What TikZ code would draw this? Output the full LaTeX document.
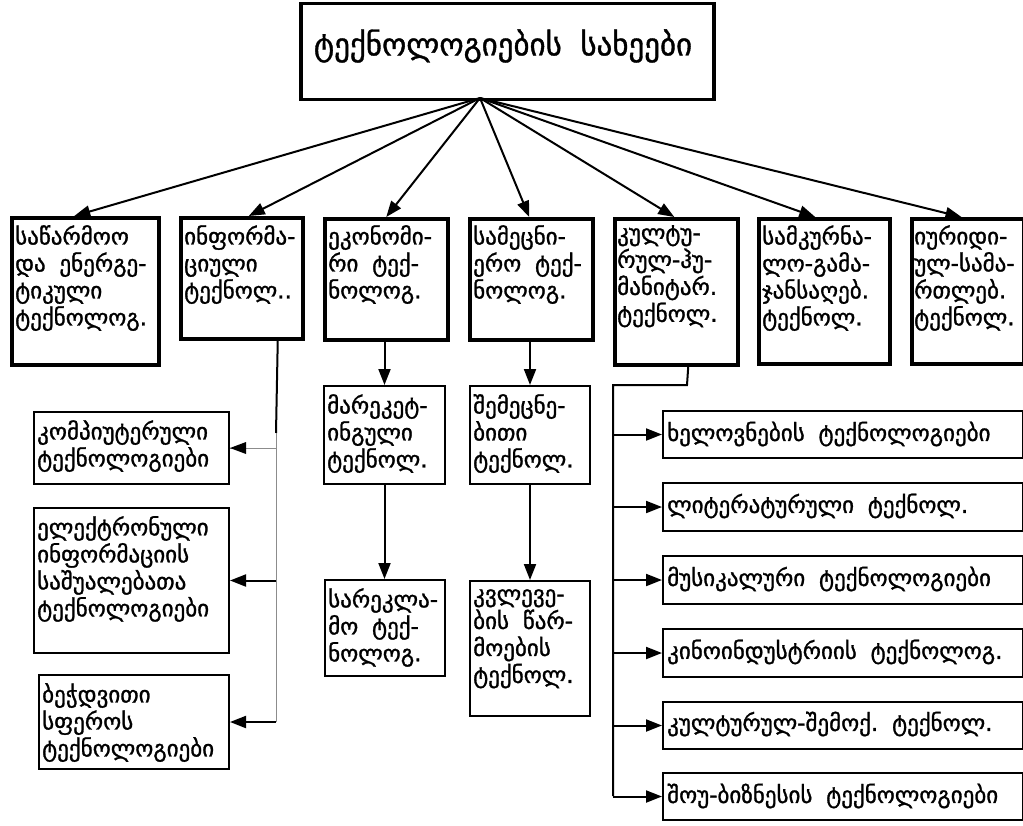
\documentclass[tikz,border=0pt]{standalone}
\usepackage{fontspec}
\newfontfamily\geo[Script=Georgian,FakeBold=1.2]{DejaVu Sans}
\usetikzlibrary{arrows.meta}
\newcommand{\gap}{\hspace{0.6em}}
\tikzset{
  heavybox/.style={draw, line width=3.5pt, anchor=north west, inner sep=0pt},
  lightbox/.style={draw, line width=2pt, anchor=north west, inner sep=0pt},
  txt/.style={anchor=north west, inner sep=0pt, align=left,
    font=\geo\fontsize{23}{27}\selectfont},
  link/.style={line width=2pt, -{Triangle[length=16pt,width=12pt]}},
  plain/.style={line width=2pt},
  faint/.style={line width=1pt, draw=black!45},
}
\newcommand{\bx}[6]{% style, name, x, y, width, height
  \node[#1, minimum width=#5, minimum height=#6] (#2) at (#3,#4) {};}
\begin{document}
\begin{tikzpicture}[x=1pt,y=-1pt]
\useasboundingbox (0,0) rectangle (1023,825);
\clip (0,0) rectangle (1023,825);

% title
\bx{heavybox}{top}{299}{1.5}{413}{96}
\node[font=\geo\fontsize{31}{36}\selectfont, inner sep=0pt] (title) at (503,46) {ტექნოლოგიების\gap სახეები};
\coordinate (hub) at (480,98);

% first level
\bx{heavybox}{b1}{10}{216}{147}{147}
\bx{heavybox}{b2}{179}{216}{122}{121}
\bx{heavybox}{b3}{323}{217}{123}{121}
\bx{heavybox}{b4}{468}{217}{123}{121}
\bx{heavybox}{b5}{613}{217}{123}{146}
\bx{heavybox}{b6}{757}{217}{131}{145}
\bx{heavybox}{b7}{910}{217}{111.5}{145}

\node[txt] (t1) at (15,225) {საწარმოო\\და\gap ენერგე-\\ტიკული\\ტექნოლოგ.};
\node[txt] (t2) at (184,225) {ინფორმა-\\ციული\\ტექნოლ..};
\node[txt] (t3) at (328,225) {ეკონომი-\\რი\gap ტექ-\\ნოლოგ.};
\node[txt] (t4) at (473,225) {სამეცნი-\\ერო\gap ტექ-\\ნოლოგ.};
\node[txt] (t5) at (617,225) {კულტუ-\\რულ-ჰუ-\\მანიტარ.\\ტექნოლ.};
\node[txt] (t6) at (762,225) {სამკურნა-\\ლო-გამა-\\ჯანსაღებ.\\ტექნოლ.};
\node[txt] (t7) at (914,225) {იურიდი-\\ულ-სამა-\\რთლებ.\\ტექნოლ.};

\draw[link] (hub) -- ([xshift=-11pt]b1.north);
\draw[link] (hub) -- ([xshift=7pt]b2.north);
\draw[link] (hub) -- (b3.north);
\draw[link] (hub) -- ([xshift=-2pt]b4.north);
\draw[link] (hub) -- ([xshift=-2pt]b5.north);
\draw[link] (hub) -- ([xshift=-9pt]b6.north);
\draw[link] (hub) -- ([xshift=-6pt]b7.north);

% information branch
\bx{lightbox}{i1}{33}{411}{195}{72}
\bx{lightbox}{i2}{33}{507}{195}{145}
\bx{lightbox}{i3}{38}{674}{190}{94}
\node[txt] (u1) at (37,420) {კომპიუტერული\\ტექნოლოგიები};
\node[txt] (u2) at (37,516) {ელექტრონული\\ინფორმაციის\\საშუალებათა\\ტექნოლოგიები};
\node[txt] (u3) at (42,683) {ბეჭდვითი\\სფეროს\\ტექნოლოგიები};

\coordinate (ibot) at (276,722);
\draw[plain] ([xshift=36pt]b2.south) -- (276,433) coordinate (ijoin);
\draw[faint] (ijoin) -- (ibot);
\draw[faint] (ijoin |- i1.east) -- (i1.east);
\fill ([xshift=16pt,yshift=-6pt]i1.east) -- (i1.east) -- ([xshift=16pt,yshift=6pt]i1.east) -- cycle;
\draw[link] (ijoin |- i2.east) -- (i2.east);
\draw[link] (ibot) -- (ibot -| i3.east);

% economic branch
\bx{lightbox}{e1}{323}{385}{121}{98}
\bx{lightbox}{e2}{324}{579}{120}{96}
\node[txt] (v1) at (327,394) {მარეკეტ-\\ინგული\\ტექნოლ.};
\node[txt] (v2) at (328,588) {სარეკლა-\\მო\gap ტექ-\\ნოლოგ.};
\draw[link] (b3.south -| e1.north) -- (e1.north);
\draw[link] (e1.south) -- (e1.south |- e2.north);

% scientific branch
\bx{lightbox}{s1}{469}{385}{120}{98}
\bx{lightbox}{s2}{469}{580}{120}{135}
\node[txt] (w1) at (473,394) {შემეცნე-\\ბითი\\ტექნოლ.};
\node[txt] (w2) at (473,589) {კვლევე-\\ბის\gap წარ-\\მოების\\ტექნოლ.};
\draw[link] (b4.south -| s1.north) -- (s1.north);
\draw[link] (s1.south) -- (s1.south |- s2.north);

% cultural branch
\bx{lightbox}{c1}{662}{410}{359.5}{47}
\bx{lightbox}{c2}{662}{482}{359.5}{48}
\bx{lightbox}{c3}{662}{555}{359.5}{48}
\bx{lightbox}{c4}{662}{628}{359.5}{48}
\bx{lightbox}{c5}{662}{701}{359.5}{47}
\bx{lightbox}{c6}{662}{772}{359.5}{47}
\node[txt, anchor=west] (x1) at (667,434) {ხელოვნების\gap ტექნოლოგიები};
\node[txt, anchor=west] (x2) at (667,506) {ლიტერატურული\gap ტექნოლ.};
\node[txt, anchor=west] (x3) at (667,579) {მუსიკალური\gap ტექნოლოგიები};
\node[txt, anchor=west] (x4) at (667,652) {კინოინდუსტრიის\gap ტექნოლოგ.};
\node[txt, anchor=west] (x5) at (667,724) {კულტურულ-შემოქ.\gap ტექნოლ.};
\node[txt, anchor=west] (x6) at (667,796) {შოუ-ბიზნესის\gap ტექნოლოგიები};

\coordinate (cbend) at (687,385);
\coordinate (ctrunk) at (613,385);
\draw[plain] ([xshift=12pt]b5.south) -- (cbend) -- (ctrunk) -- (613,796);
\foreach \k in {1,...,6}{
  \draw[link] (ctrunk |- c\k.west) -- (c\k.west);
}
\end{tikzpicture}
\end{document}
